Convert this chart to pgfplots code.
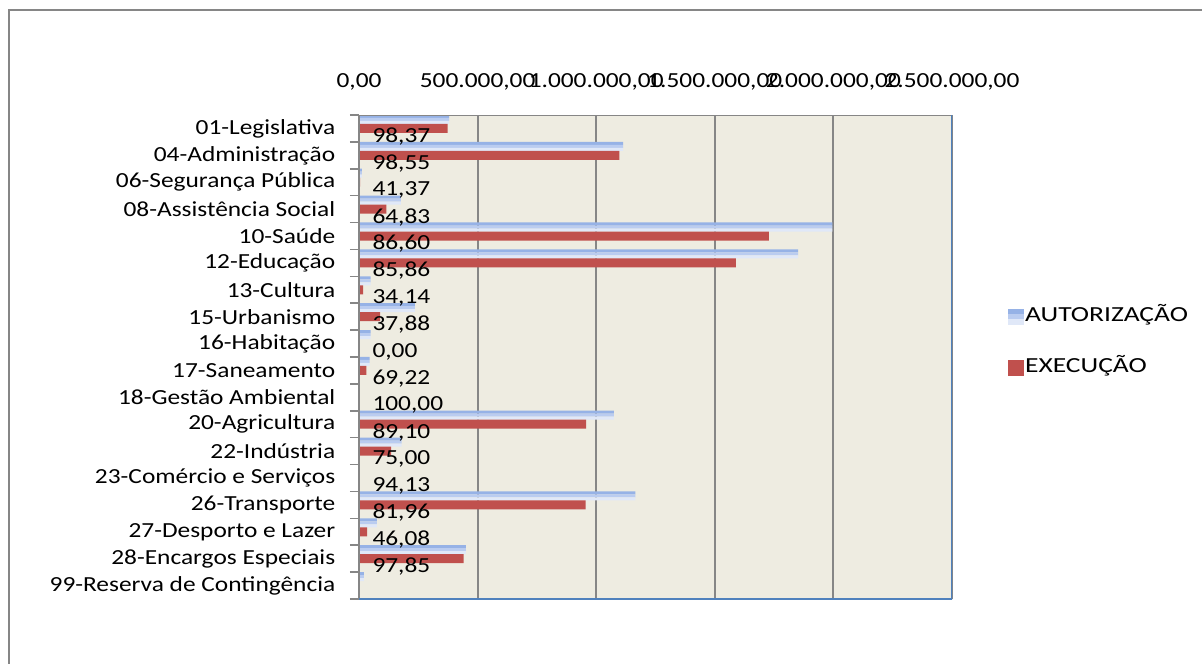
\documentclass[border=0pt]{standalone}
\usepackage{fontspec}
\setmainfont{Carlito}[FakeStretch=1.18]
\newfontfamily\legfont{Carlito}[FakeStretch=1.28]
\usepackage{pgfplots}
\pgfplotsset{compat=1.18}
\definecolor{bgc}{RGB}{238,236,225}
\definecolor{gridc}{RGB}{134,134,134}
\definecolor{axblue}{RGB}{79,129,189}
\definecolor{barred}{RGB}{192,80,77}
\definecolor{blueA}{RGB}{150,178,230}
\definecolor{blueB}{RGB}{186,204,240}
\definecolor{blueC}{RGB}{224,232,248}
\pgfplotstableread{
y A E
0 380000 374000
1 1114000 1098000
2 12000 5000
3 177000 115000
4 1996000 1728000
5 1851000 1589000
6 49000 17000
7 236000 89000
8 49000 0
9 45000 31000
10 2000 2000
11 1075000 958000
12 180000 135000
13 4000 3800
14 1165000 955000
15 75000 34500
16 451000 441000
17 21000 0
}\budget
\pgfplotstableread{
y v lab
0 0 98,37
1 0 98,55
2 0 41,37
3 0 64,83
4 0 86,60
5 0 85,86
6 0 34,14
7 0 37,88
8 0 0,00
9 0 69,22
10 0 100,00
11 0 89,10
12 0 75,00
13 0 94,13
14 0 81,96
15 0 46,08
16 0 97,85
}\pct
\begin{document}
\begin{tikzpicture}[font=\fontsize{21.5bp}{26bp}\selectfont]
\useasboundingbox (0bp,0bp) rectangle (1202bp,-664bp);
\draw[gridc, line width=2bp] (9bp,-664bp) -- (9bp,-10bp) -- (1202bp,-10bp);
\begin{axis}[
  at={(359bp,-599bp)}, anchor=south west,
  scale only axis, width=593bp, height=484bp,
  xmin=0, xmax=2500000, ymin=-0.5, ymax=17.5, y dir=reverse,
  axis background/.style={fill=bgc},
  axis line style={draw=none},
  xbar,
  xtick={0,500000,1000000,1500000,2000000,2500000},
  scaled x ticks=false,
  xticklabel pos=upper,
  xtick style={draw=none},
  xticklabel={\pgfmathprintnumber[fixed,fixed zerofill,precision=2,1000 sep={.},dec sep={,},assume math mode=true]{\tick}},
  xticklabel style={anchor=base, yshift=23bp},
  xmajorgrids, major x grid style={gridc, line width=2bp},
  ytick={0,...,17},
  yticklabels={01-Legislativa,04-Administração,06-Segurança Pública,08-Assistência Social,10-Saúde,12-Educação,13-Cultura,15-Urbanismo,16-Habitação,17-Saneamento,18-Gestão Ambiental,20-Agricultura,22-Indústria,23-Comércio e Serviços,26-Transporte,27-Desporto e Lazer,28-Encargos Especiais,99-Reserva de Contingência},
  ytick pos=left,
  major y tick style={draw=none},
  minor ytick={-0.5,0.5,...,17.5},
  minor y tick style={gridc, line width=1.5bp},
  minor tick length=9bp,
  tick align=outside,
  yticklabel style={anchor=east, xshift=-16bp},
  legend style={at={(axis description cs:1.0886,0.531)}, anchor=west, draw=none, fill=none,
     row sep=25bp, nodes={text height=16bp, text depth=6bp}, font=\fontsize{21.5bp}{26bp}\legfont},
  legend cell align=left,
]
\addlegendimage{legend image code/.code={
   \fill[blueA] (-6bp,2.5bp) rectangle (9bp,7.5bp);
   \fill[blueB] (-6bp,-2.5bp) rectangle (9bp,2.5bp);
   \fill[blueC] (-6bp,-7.5bp) rectangle (9bp,-2.5bp);}}
\addlegendentry{AUTORIZAÇÃO}
\addlegendimage{legend image code/.code={\fill[barred] (-6bp,-7.5bp) rectangle (9bp,7.5bp);}}
\addlegendentry{EXECUÇÃO}
\addplot[forget plot, draw=none, fill=blueA, bar width=0.1117, bar shift=-0.4467] table[x=A,y=y] {\budget};
\addplot[forget plot, draw=none, fill=blueB, bar width=0.1117, bar shift=-0.335] table[x=A,y=y] {\budget};
\addplot[forget plot, draw=none, fill=blueC, bar width=0.1117, bar shift=-0.2233] table[x=A,y=y] {\budget};
\addplot[forget plot, draw=none, fill=barred, bar width=0.335, bar shift=0] table[x=E,y=y] {\budget};
\addplot[forget plot, draw=none, fill=none, bar width=0.335, bar shift=0.335,
   nodes near coords, point meta=explicit symbolic,
   nodes near coords style={anchor=west, xshift=10bp, yshift=1bp, text=black}]
   table[x=v,y=y,meta=lab] {\pct};
\draw[gridc, line width=2bp] (rel axis cs:0,0) -- (rel axis cs:0,1) -- (rel axis cs:1,1);
\draw[axblue, line width=2bp] (rel axis cs:0,0) -- (rel axis cs:1,0) -- (rel axis cs:1,1);
\end{axis}
\end{tikzpicture}
\end{document}
